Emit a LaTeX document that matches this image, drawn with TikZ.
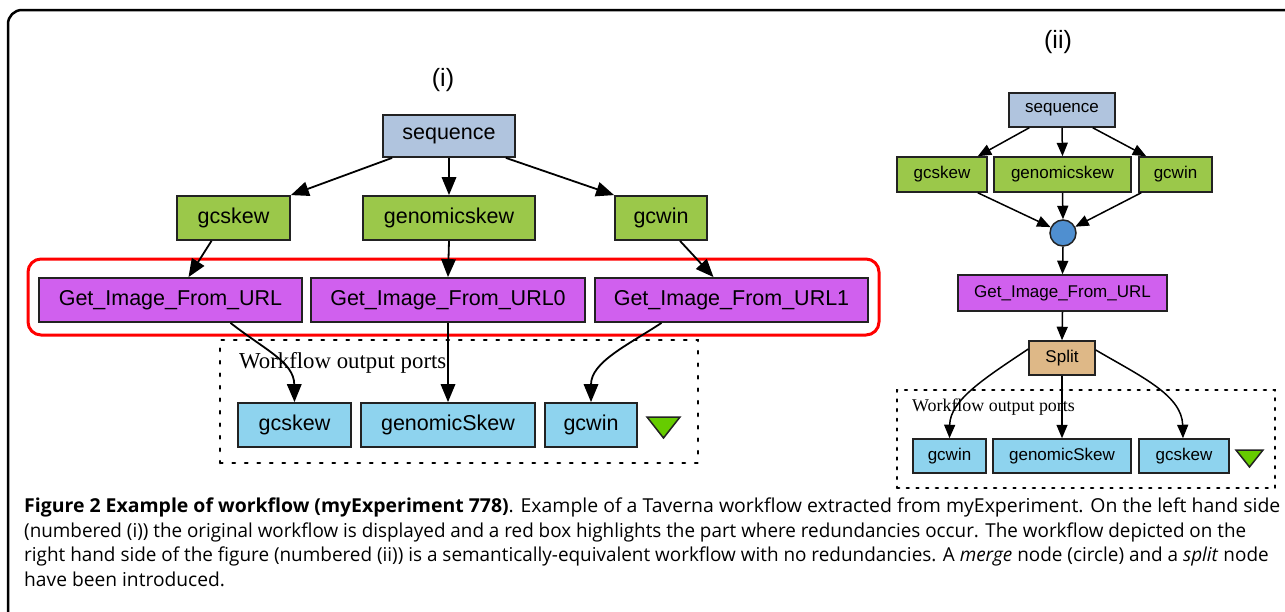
\documentclass[tikz,border=0pt]{standalone}
\usepackage{fontspec}
\usepackage{graphicx}
\setmainfont{Open Sans}
\newfontfamily\arialf{Liberation Sans}
\newfontfamily\timesf{Liberation Serif}
\usetikzlibrary{arrows.meta}
\definecolor{seqblue}{HTML}{B0C4DE}
\definecolor{procgreen}{HTML}{9BC84A}
\definecolor{getpurple}{HTML}{D060EE}
\definecolor{outcyan}{HTML}{8ED3EE}
\definecolor{splittan}{HTML}{DEB887}
\definecolor{mergeblue}{HTML}{4F8FD0}
\definecolor{trigreen}{HTML}{66CC00}
\definecolor{boxline}{HTML}{222222}
\begin{document}
\begin{tikzpicture}[x=1pt,y=-1pt,
  lbox/.style={draw=boxline, line width=1.8, minimum height=44, inner sep=0, font=\arialf\fontsize{21.5}{24}\selectfont},
  rbox/.style={draw=boxline, line width=1.5, minimum height=35, inner sep=0, font=\arialf\fontsize{17}{20}\selectfont},
  larr/.style={line width=1.8, -{Triangle[length=18,width=14.5]}},
  rarr/.style={line width=1.5, -{Triangle[length=13.5,width=11]}},
  ldots/.style={line width=2.5, dash pattern=on 2.5 off 10, line cap=round},
  rdots/.style={line width=2.2, dash pattern=on 2.2 off 7.5, line cap=round},
  tri/.style={draw=boxline, line width=1.5, fill=trigreen},
  caption/.style={anchor=base west, inner sep=0, font=\fontsize{19.2}{24}\selectfont}
]
\useasboundingbox (0,0) rectangle (1285,611);
\begin{scope}
\clip (0,0) rectangle (1285,611);
\draw[line width=2.5, rounded corners=14] (8,10) rectangle (1320,625);
\end{scope}

% ---------- left workflow (i) ----------
\node[font=\arialf\fontsize{25}{28}\selectfont] (ltitle) at (443,80) {(i)};
\node[lbox, fill=seqblue, minimum width=132, minimum height=42] (lseq) at (449,136) {sequence};
\node[lbox, fill=procgreen, minimum width=113] (lgcs) at (233.5,218) {gcskew};
\node[lbox, fill=procgreen, minimum width=172] (lgen) at (449,218) {genomicskew};
\node[lbox, fill=procgreen, minimum width=92] (lgcw) at (661,218) {gcwin};
\node[draw=red, line width=3, rounded corners=13, minimum width=851, minimum height=76, inner sep=0] (redbox) at (453.5,297) {};
\node[lbox, fill=getpurple, minimum width=263] (lg1) at (170.5,300) {Get\_Image\_From\_URL};
\node[lbox, fill=getpurple, minimum width=274] (lg2) at (448,300) {Get\_Image\_From\_URL0};
\node[lbox, fill=getpurple, minimum width=273] (lg3) at (731.5,300) {Get\_Image\_From\_URL1};
\node[ldots, draw, minimum width=478, minimum height=123, inner sep=0] (lports) at (459,401.5) {};
\node[anchor=west, inner sep=0, font=\timesf\fontsize{22.8}{26}\selectfont] (lportlbl) at (239,363) {Workflow output ports};
\node[lbox, fill=outcyan, minimum width=113] (lo1) at (294.5,425) {gcskew};
\node[lbox, fill=outcyan, minimum width=174] (lo2) at (448,425) {genomicSkew};
\node[lbox, fill=outcyan, minimum width=92] (lo3) at (591,425) {gcwin};
\draw[tri] (647,417) -- (680,417) -- (663.5,438) -- cycle;

\draw[larr] ([xshift=10]lseq.south west) -- (lgcs.north east);
\draw[larr] (lseq.south) -- (lgen.north);
\draw[larr] ([xshift=-10]lseq.south east) -- (lgcw.north west);
\draw[larr] ([xshift=-22]lgcs.south) -- ([xshift=18]lg1.north);
\draw[larr] (lgen.south) -- (lg2.north);
\draw[larr] ([xshift=19]lgcw.south) -- ([xshift=-18]lg3.north);
\draw[larr] ([xshift=60]lg1.south) .. controls (265,350) and (294,362) .. (lo1.north);
\draw[larr] (lg2.south) -- (lo2.north);
\draw[larr] ([xshift=-70]lg3.south) .. controls (628,345) and (591,362) .. (lo3.north);

% ---------- right workflow (ii) ----------
\node[font=\arialf\fontsize{25}{28}\selectfont] (rtitle) at (1058,42) {(ii)};
\node[rbox, fill=seqblue, minimum width=106, minimum height=34] (rseq) at (1062,110) {sequence};
\node[rbox, fill=procgreen, minimum width=90] (rgcs) at (942,174.5) {gcskew};
\node[rbox, fill=procgreen, minimum width=137] (rgen) at (1062.5,174.5) {genomicskew};
\node[rbox, fill=procgreen, minimum width=73] (rgcw) at (1175.5,174.5) {gcwin};
\node[circle, draw=boxline, line width=1.5, fill=mergeblue, minimum size=26, inner sep=0] (merge) at (1063,233) {};
\node[rbox, fill=getpurple, minimum width=209, minimum height=36] (rget) at (1062.5,293) {Get\_Image\_From\_URL};
\node[rbox, fill=splittan, minimum width=66, minimum height=34] (rsplit) at (1062,358) {Split};
\node[rdots, draw, minimum width=378, minimum height=98, inner sep=0] (rports) at (1086,439) {};
\node[anchor=west, inner sep=0, font=\timesf\fontsize{17.9}{20}\selectfont] (rportlbl) at (912,407) {Workflow output ports};
\node[rbox, fill=outcyan, minimum width=73, minimum height=34] (ro1) at (949.5,456) {gcwin};
\node[rbox, fill=outcyan, minimum width=138, minimum height=34] (ro2) at (1062,456) {genomicSkew};
\node[rbox, fill=outcyan, minimum width=90, minimum height=34] (ro3) at (1184,456) {gcskew};
\draw[tri] (1236,450) -- (1263,450) -- (1249.5,467) -- cycle;

\draw[rarr] ([xshift=21]rseq.south west) -- ([xshift=-10]rgcs.north east);
\draw[rarr] (rseq.south) -- (rgen.north);
\draw[rarr] ([xshift=-23]rseq.south east) -- ([xshift=8]rgcw.north west);
\draw[rarr] ([xshift=-10]rgcs.south east) -- (merge);
\draw[rarr] (rgen.south) -- (merge.north);
\draw[rarr] ([xshift=3]rgcw.south west) -- (merge);
\draw[rarr] (merge.south) -- (rget.north);
\draw[rarr] (rget.south) -- (rsplit.north);
\draw[rarr] ([yshift=9]rsplit.west) .. controls (985,378) and (950,400) .. (ro1.north);
\draw[rarr] (rsplit.south) -- (ro2.north);
\draw[rarr] ([yshift=8]rsplit.east) .. controls (1140,376) and (1182,395) .. ([xshift=-1]ro3.north);

% ---------- caption ----------
\node[caption] (cap1) at (24,512) {\scalebox{1.013}[1]{\textbf{Figure 2 Example of workflow (myExperiment 778)}. Example of a Taverna workflow extracted from myExperiment. On the left hand side}};
\node[caption] (cap2) at (24,537) {\scalebox{0.982}[1]{(numbered (i)) the original workflow is displayed and a red box highlights the part where redundancies occur. The workflow depicted on the}};
\node[caption] (cap3) at (24,561.5) {\scalebox{0.985}[1]{right hand side of the figure (numbered (ii)) is a semantically-equivalent workflow with no redundancies. A \textit{merge} node (circle) and a \textit{split} node}};
\node[caption] (cap4) at (24,586) {have been introduced.};
\end{tikzpicture}
\end{document}
